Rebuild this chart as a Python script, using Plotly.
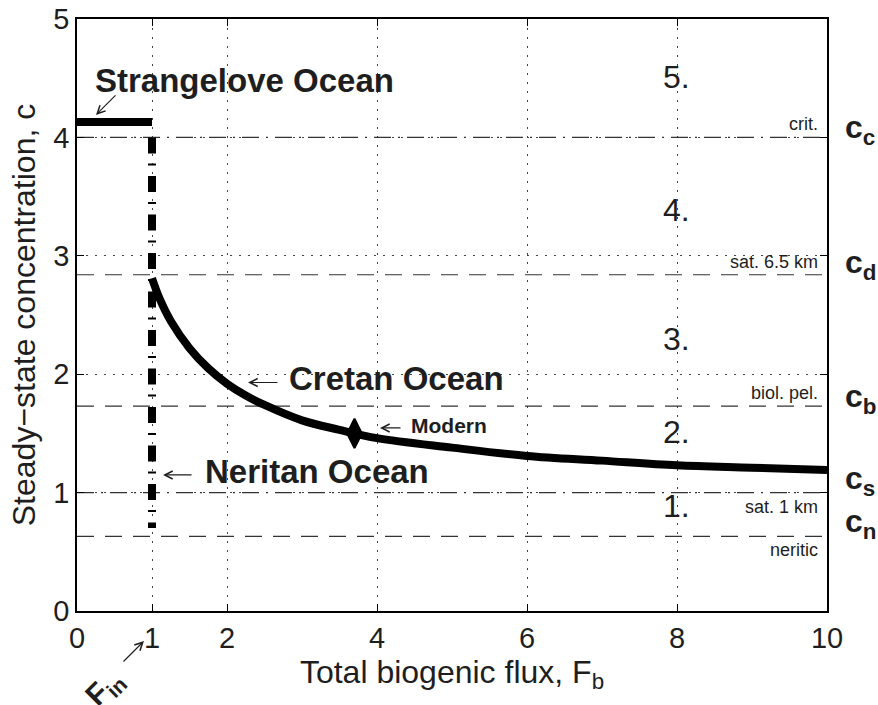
import plotly.graph_objects as go

# Steady-state concentration as a function of total biogenic flux
flux = [1.0, 1.1, 1.25, 1.5, 1.75, 2.0, 2.25, 2.5, 3.0, 3.5, 4.0, 5.0, 6.0, 7.0, 8.0, 9.0, 10.0]
conc = [2.81, 2.64, 2.45, 2.22, 2.05, 1.92, 1.82, 1.74, 1.61, 1.53, 1.46, 1.38, 1.31, 1.27, 1.23, 1.21, 1.19]

# Strangelove ocean plateau and the Neritan ocean drop at F_in
strangelove_flux = [0.0, 1.0]
strangelove_conc = [4.13, 4.13]
neritan_flux = [1.0, 1.0]
neritan_conc = [4.0, 0.70]

# Modern ocean
modern_flux = [3.7]
modern_conc = [1.50]

# Threshold concentrations
thr_names = ["crit.", "sat. 6.5 km", "biol. pel.", "sat. 1 km", "neritic"]
thr_values = [4.0, 2.84, 1.73, 1.0, 0.63]
thr_symbols = ["c", "d", "b", "s", "n"]
thr_styles = ["dashdot", "dash", "dash", "dashdot", "dash"]
thr_label_above = [True, True, True, False, False]
thr_symbol_lift = [8, 10, 8, 12, 13]

# Regime numbers
regime_labels = ["1.", "2.", "3.", "4.", "5."]
regime_conc = [0.89, 1.51, 2.30, 3.39, 4.51]
regime_flux = 7.99

x_ticks = [0, 1, 2, 4, 6, 8, 10]
y_ticks = [0, 1, 2, 3, 4, 5]

FONT = "Liberation Sans, Arial, Helvetica, sans-serif"
INK = "#1e1e1e"
DASHES = {"dash": "17px,11px", "dashdot": "17px,7px,2px,7px"}

fig = go.Figure()

for val, style in zip(thr_values, thr_styles):
    fig.add_trace(go.Scatter(
        x=[0, 10], y=[val, val], mode="lines",
        line=dict(color="#333333", width=1.1, dash=DASHES[style]),
        hoverinfo="skip", showlegend=False))

fig.add_trace(go.Scatter(
    x=strangelove_flux, y=strangelove_conc, mode="lines",
    line=dict(color="black", width=8), showlegend=False))

fig.add_trace(go.Scatter(
    x=neritan_flux, y=neritan_conc, mode="lines",
    line=dict(color="black", width=8, dash="16px,10px,2px,10.5px"), showlegend=False))

fig.add_trace(go.Scatter(
    x=flux, y=conc, mode="lines",
    line=dict(color="black", width=8, shape="spline"), showlegend=False))

fig.add_trace(go.Scatter(
    x=modern_flux, y=modern_conc, mode="markers",
    marker=dict(symbol="diamond-tall", size=21, color="black",
                line=dict(color="black", width=2)),
    showlegend=False))

ann = []


def label(text, x, y, size, bold=False, xanchor="left", yanchor="middle",
          xref="x", yref="y", angle=0, yshift=0):
    if bold:
        text = "<b>" + text + "</b>"
    ann.append(dict(text=text, x=x, y=y, xref=xref, yref=yref,
                    showarrow=False, xanchor=xanchor, yanchor=yanchor,
                    textangle=angle, yshift=yshift,
                    font=dict(family=FONT, size=size, color=INK)))


def arrow(x, y, ax, ay, xref="x", yref="y", yshift=0):
    ann.append(dict(text="", x=x, y=y, xref=xref, yref=yref, ax=ax, ay=ay,
                    showarrow=True, arrowhead=5, arrowsize=1.3, arrowwidth=1.2,
                    arrowcolor=INK, standoff=0, startstandoff=0, yshift=yshift))


# Ocean names
label("Strangelove Ocean", 0.21, 4.48, 33, bold=True)
arrow(0.253, 4.19, 21, -21)
label("Cretan Ocean", 2.80, 1.96, 33, bold=True)
arrow(2.28, 1.93, 31, 0)
label("Modern", 4.43, 1.565, 21, bold=True)
arrow(4.04, 1.546, 22, 0)
label("Neritan Ocean", 1.68, 1.18, 33, bold=True)
arrow(1.147, 1.149, 30, 0)

# Input flux marker below the axis, tilted 45 degrees
label("F<sub>in</sub>", 0.37, 0.0, 30, bold=True, xanchor="center",
      angle=-45, yshift=-77)
arrow(0.893, 0.0, -22, 22, yshift=-30)

# Regime numbers
for t, c in zip(regime_labels, regime_conc):
    label(t, regime_flux, c, 32, xanchor="center")

# Threshold labels inside and symbols outside the axes
for name, val, sym, above, lift in zip(thr_names, thr_values, thr_symbols,
                                       thr_label_above, thr_symbol_lift):
    label(name, 9.907, val, 18, xanchor="right",
          yanchor="bottom" if above else "top", yshift=1 if above else -2)
    label("c<sub>" + sym + "</sub>", 1.021, val, 32, bold=True, xref="paper", yshift=lift)

axis_common = dict(
    showline=True, linecolor="black", linewidth=1.5, mirror="ticks",
    ticks="inside", ticklen=7, tickwidth=1, tickcolor="black",
    showgrid=True, gridcolor="#444444", gridwidth=1.1, griddash="2px,7px",
    zeroline=False, automargin=False,
    tickfont=dict(family=FONT, size=29, color=INK),
)

fig.update_xaxes(range=[0, 10], tickvals=x_ticks, ticktext=[str(v) for v in x_ticks],
                 title=dict(text="Total biogenic flux, F<sub>b</sub>", standoff=2,
                            font=dict(family=FONT, size=32, color=INK)),
                 **axis_common)
fig.update_yaxes(range=[0, 5], tickvals=y_ticks, ticktext=[str(v) for v in y_ticks],
                 title=dict(text="Steady\u2212state concentration, c", standoff=8,
                            font=dict(family=FONT, size=32, color=INK)),
                 **axis_common)

fig.update_layout(
    width=878, height=705,
    margin=dict(l=77, r=51, t=19, b=94),
    paper_bgcolor="white", plot_bgcolor="white",
    annotations=ann, showlegend=False,
)

fig.write_html("out.html")
